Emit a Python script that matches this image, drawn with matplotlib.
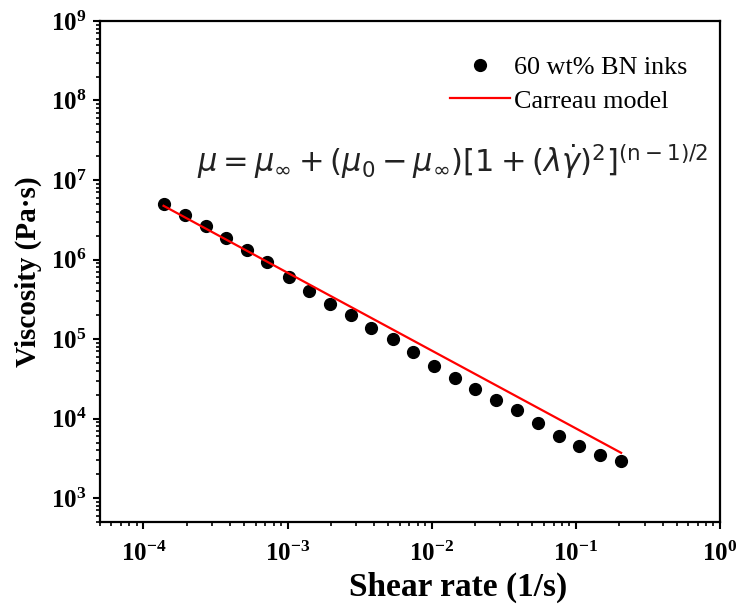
import matplotlib
matplotlib.use('Agg')
import matplotlib.pyplot as plt
from matplotlib.ticker import LogLocator, FuncFormatter, NullFormatter
import numpy as np

plt.rcParams.update({
    'font.family': ['Liberation Serif', 'DejaVu Serif'],
    'mathtext.fontset': 'custom',
    'mathtext.rm': 'Liberation Serif:bold',
    'mathtext.bf': 'Liberation Serif:bold',
    'mathtext.it': 'Liberation Serif:bold:italic',
})

# measured flow curve, 60 wt% BN ink
shear_rate = [1.38e-4, 1.93e-4, 2.70e-4, 3.75e-4, 5.21e-4, 7.25e-4, 1.02e-3,
              1.42e-3, 1.98e-3, 2.74e-3, 3.82e-3, 5.35e-3, 7.45e-3, 1.04e-2,
              1.44e-2, 2.01e-2, 2.81e-2, 3.93e-2, 5.46e-2, 7.62e-2, 0.106,
              0.148, 0.206]
viscosity = [4.99e6, 3.60e6, 2.64e6, 1.87e6, 1.32e6, 9.25e5, 6.05e5, 4.04e5,
             2.75e5, 1.98e5, 1.39e5, 9.89e4, 6.79e4, 4.62e4, 3.22e4, 2.33e4,
             1.73e4, 1.27e4, 8.83e3, 6.12e3, 4.49e3, 3.53e3, 2.91e3]

# Carreau fit (straight in log-log over this range)
fit_rate = [1.38e-4, 0.206]
fit_visc = [4.74e6, 3.71e3]

x_ticks = [1e-4, 1e-3, 1e-2, 1e-1, 1e0]
y_ticks = [1e3, 1e4, 1e5, 1e6, 1e7, 1e8, 1e9]

fig = plt.figure(figsize=(7.39, 6.08), dpi=100)
ax = fig.add_axes([0.1353, 0.1414, 0.839, 0.8241])

ax.plot(shear_rate, viscosity, 'o', color='black', ms=8.5, label='60 wt% BN inks', zorder=3)
ax.plot(fit_rate, fit_visc, '-', color='#ff0000', lw=1.6, label='Carreau model', zorder=4)

ax.set_xscale('log')
ax.set_yscale('log')
ax.set_xticks(x_ticks)
ax.set_yticks(y_ticks)
ax.set_xlim(5e-5, 1)
ax.set_ylim(5e2, 1e9)

ax.xaxis.set_minor_locator(LogLocator(base=10, subs=np.arange(2, 10), numticks=20))
ax.yaxis.set_minor_locator(LogLocator(base=10, subs=np.arange(2, 10), numticks=20))
pow_fmt = FuncFormatter(lambda v, _: r'$\mathbf{10^{%d}}$' % int(round(np.log10(v))))
ax.xaxis.set_major_formatter(pow_fmt)
ax.yaxis.set_major_formatter(pow_fmt)
ax.xaxis.set_minor_formatter(NullFormatter())
ax.yaxis.set_minor_formatter(NullFormatter())

for s in ax.spines.values():
    s.set_linewidth(1.6)
ax.tick_params(which='major', direction='out', length=5, width=1.5, labelsize=18)
ax.tick_params(axis='x', which='major', pad=9)
ax.tick_params(axis='y', which='major', pad=5)
ax.tick_params(which='minor', direction='out', length=3, width=1.2)
ax.tick_params(top=False, right=False, which='both')

ax.set_xlabel('Shear rate (1/s)', fontsize=24, fontweight='bold', labelpad=2)
ax.xaxis.set_label_coords(0.577, -0.099)
ax.set_ylabel('Viscosity (Pa·s)', fontsize=21, fontweight='bold', labelpad=6)

ax.legend(loc='upper left', bbox_to_anchor=(0.565, 0.93), frameon=False,
          fontsize=18.8, handlelength=2.3, handletextpad=0.15, labelspacing=0.38,
          borderpad=0, borderaxespad=0)

ax.text(0.569, 0.719,
        r'$\mu = \mu_\infty + (\mu_0 - \mu_\infty)[1 + (\lambda\dot{\gamma})^2]^{(\mathrm{n}-1)/2}$',
        transform=ax.transAxes, ha='center', va='center', fontsize=22,
        math_fontfamily='dejavusans', color='#222222')

fig.savefig('out.png', dpi=100)
